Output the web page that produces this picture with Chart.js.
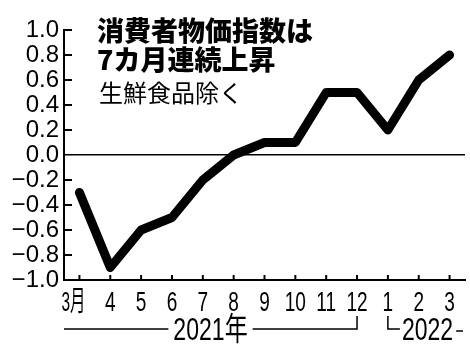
<!DOCTYPE html>
<html>
<head>
<meta charset="utf-8">
<script src="https://cdn.jsdelivr.net/npm/chart.js@4"></script>
<style>
  html, body { margin: 0; padding: 0; background: #fff; }
  #wrap { width: 470px; height: 348px; position: relative; }
</style>
</head>
<body>
<div id="wrap"><canvas id="cpi-chart" width="470" height="348"></canvas></div>
<script>
// data
const months = ["3月", "4", "5", "6", "7", "8", "9", "10", "11", "12", "1", "2", "3"];
const coreCpi = [-0.3, -0.9, -0.6, -0.5, -0.2, 0.0, 0.1, 0.1, 0.5, 0.5, 0.2, 0.6, 0.8];
const titleLines = ["消費者物価指数は", "7カ月連続上昇"];
const subTitle = "生鮮食品除く";
const yearLabels = ["2021年", "2022"];

const SANS = '"Liberation Sans", "Noto Sans CJK JP", sans-serif';
const CJK = '"Noto Sans CJK JP", sans-serif';

// draw text squeezed horizontally, like the narrow newspaper digits
function narrowText(ctx, text, cx, baseY, squeeze, align) {
  ctx.save();
  ctx.translate(cx, baseY);
  ctx.scale(squeeze, 1);
  ctx.textAlign = align;
  ctx.fillText(text, 0, 0);
  ctx.restore();
}

// extra drawing: inward ticks, month labels, title, year brackets
const decorations = {
  id: 'decorations',
  afterDraw(chart) {
    const ctx = chart.ctx;
    const x = chart.scales.x, y = chart.scales.y;
    const area = chart.chartArea;
    ctx.save();
    ctx.strokeStyle = '#000';
    ctx.fillStyle = '#000';
    ctx.lineWidth = 2;
    // y ticks pointing into the plot
    y.ticks.forEach(t => {
      if (Math.abs(t.value) < 1e-9 || t.value <= -1 + 1e-9) return;
      const py = y.getPixelForValue(t.value);
      ctx.beginPath();
      ctx.moveTo(area.left, py);
      ctx.lineTo(area.left + 8, py);
      ctx.stroke();
    });
    // x ticks pointing up, month labels below
    ctx.font = '28px ' + SANS;
    ctx.textBaseline = 'alphabetic';
    months.forEach((m, i) => {
      const px = x.getPixelForValue(i);
      ctx.beginPath();
      ctx.moveTo(px, area.bottom);
      ctx.lineTo(px, area.bottom - 5);
      ctx.stroke();
      if (i === 0) narrowText(ctx, m, px - 6, 311, 0.55, 'center');
      else narrowText(ctx, m, px, 311, 0.68, 'center');
    });

    // title
    ctx.textAlign = 'left';
    ctx.font = '900 27px ' + CJK;
    ctx.fillText(titleLines[0], 97, 41);
    ctx.fillText(titleLines[1], 97, 70);
    ctx.font = '400 24px ' + CJK;
    ctx.fillText(subTitle, 99, 102);

    // year brackets under the axis
    const lineY = 329, topY = 316;
    const xDec = x.getPixelForValue(9);
    const xJan = x.getPixelForValue(10);
    const sq = 0.72;
    ctx.font = '32px ' + SANS;
    const w1 = ctx.measureText(yearLabels[0]).width * sq;
    const c1 = (area.left + xDec) / 2;
    narrowText(ctx, yearLabels[0], c1, lineY + 11, sq, 'center');
    ctx.lineWidth = 1.5;
    ctx.beginPath();
    ctx.moveTo(area.left, lineY);
    ctx.lineTo(c1 - w1 / 2 - 5, lineY);
    ctx.moveTo(c1 + w1 / 2 + 5, lineY);
    ctx.lineTo(xDec, lineY);
    ctx.lineTo(xDec, topY);
    ctx.moveTo(xJan, topY);
    ctx.lineTo(xJan, lineY);
    ctx.lineTo(xJan + 12, lineY);
    ctx.stroke();
    const w2 = ctx.measureText(yearLabels[1]).width * sq;
    narrowText(ctx, yearLabels[1], xJan + 14, lineY + 11, sq, 'left');
    ctx.beginPath();
    ctx.moveTo(xJan + 17 + w2, lineY + 2);
    ctx.lineTo(area.right - 2, lineY + 2);
    ctx.stroke();
    ctx.restore();
  }
};

new Chart(document.getElementById("cpi-chart"), {
  type: 'line',
  data: {
    labels: months,
    datasets: [{
      label: "消費者物価指数",
      data: coreCpi,
      borderColor: '#000',
      borderWidth: 9,
      borderCapStyle: 'round',
      borderJoinStyle: 'round',
      pointRadius: 0,
      tension: 0,
      fill: false
    }]
  },
  options: {
    responsive: false,
    animation: false,
    layout: { padding: { top: 30, right: 5, left: 0, bottom: 0 } },
    plugins: {
      legend: { display: false },
      title: { display: false },
      tooltip: { enabled: false }
    },
    scales: {
      x: {
        offset: true,
        grid: { display: false, drawTicks: false },
        border: { display: true, color: '#000', width: 2 },
        ticks: { display: false },
        afterFit: s => { s.height = 68; }
      },
      y: {
        min: -1, max: 1,
        grid: {
          drawTicks: false,
          color: c => (c.tick && Math.abs(c.tick.value) < 1e-9) ? '#000' : 'rgba(0,0,0,0)',
          lineWidth: 1.5
        },
        border: { display: true, color: '#000', width: 2 },
        ticks: {
          stepSize: 0.2,
          autoSkip: false,
          color: '#000',
          padding: 5,
          font: { family: SANS, size: 24, lineHeight: 1 },
          callback: v => (v < -1e-9 ? '−' : '') + Math.abs(v).toFixed(1)
        },
        afterFit: s => { s.width = 64; }
      }
    }
  },
  plugins: [decorations]
});
</script>
</body>
</html>
